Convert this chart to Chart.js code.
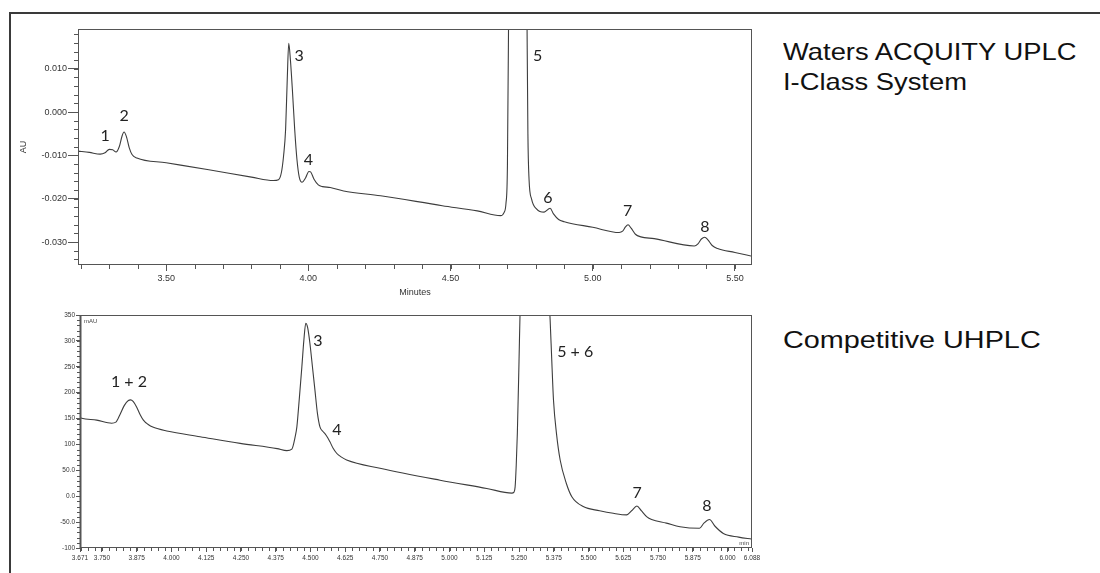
<!DOCTYPE html>
<html>
<head>
<meta charset="utf-8">
<title>UPLC vs UHPLC chromatograms</title>
<script src="https://cdn.jsdelivr.net/npm/chart.js@4.4.1/dist/chart.umd.min.js"></script>
<style>
  body { margin: 0; background: #fff; width: 1100px; height: 573px; overflow: hidden; position: relative;
         font-family: "Liberation Sans", Arial, sans-serif; }
  #frame { position: absolute; left: 9px; top: 12px; width: 1100px; height: 580px;
           border-left: 2px solid #3a3a3a; border-top: 2px solid #3a3a3a; }
  #topWrap { position: absolute; left: 0; top: 0; width: 780px; height: 300px; }
  #bottomWrap { position: absolute; left: 0; top: 300px; width: 780px; height: 273px; }
  .system { position: absolute; left: 783px; font-size: 24px; line-height: 30px; color: #111;
            transform: scaleX(1.14); transform-origin: left top; white-space: nowrap; }
  .system.wide { transform: scaleX(1.2); }
</style>
</head>
<body>
<div id="frame"></div>
<div id="topWrap"><canvas id="topChart"></canvas></div>
<div id="bottomWrap"><canvas id="bottomChart"></canvas></div>
<div class="system" style="top:37px">Waters ACQUITY UPLC<br>I-Class System</div>
<div class="system wide" style="top:325px">Competitive UHPLC</div>

<script>
// Waters ACQUITY UPLC I-Class trace (minutes, AU)
const topTime = [3.190, 3.230, 3.268, 3.285, 3.300, 3.312, 3.324, 3.335, 3.345, 3.352, 3.360, 3.370, 3.380, 3.397,
  3.500, 3.650, 3.800, 3.877, 3.895, 3.905, 3.913, 3.920, 3.926, 3.931, 3.937, 3.944, 3.952, 3.960, 3.968, 3.978,
  3.990, 4.002, 4.008, 4.020, 4.035, 4.050, 4.077, 4.124, 4.254, 4.471, 4.594, 4.676, 4.688, 4.695, 4.700, 4.705,
  4.712, 4.725, 4.740, 4.755, 4.765, 4.769, 4.772, 4.776, 4.785, 4.803, 4.829, 4.850, 4.862, 4.880, 4.900, 5.000,
  5.093, 5.105, 5.115, 5.124, 5.135, 5.150, 5.169, 5.216, 5.357, 5.370, 5.382, 5.394, 5.405, 5.420, 5.439, 5.500, 5.562];
const topAU = [-0.0090, -0.0093, -0.0097, -0.0094, -0.0086, -0.0087, -0.0092, -0.0080, -0.0055, -0.0046, -0.0056, -0.0082, -0.0098, -0.0106,
  -0.0117, -0.0133, -0.0150, -0.0158, -0.0156, -0.0140, -0.0100, -0.0040, 0.0080, 0.0159, 0.0120, 0.0050, -0.0040, -0.0110, -0.0150, -0.0162,
  -0.0152, -0.0137, -0.0138, -0.0155, -0.0168, -0.0172, -0.0174, -0.0182, -0.0193, -0.0216, -0.0228, -0.0239, -0.0232, -0.0210, -0.0124, 0.0300,
  0.0900, 0.1500, 0.1600, 0.1200, 0.0600, 0.0200, -0.0050, -0.0155, -0.0201, -0.0224, -0.0231, -0.0222, -0.0235, -0.0248, -0.0253, -0.0266,
  -0.0278, -0.0275, -0.0265, -0.0260, -0.0268, -0.0282, -0.0288, -0.0292, -0.0309, -0.0304, -0.0293, -0.0289, -0.0295, -0.0308, -0.0315, -0.0324, -0.0333];

// competitive UHPLC trace (minutes, mAU)
const bottomTime = [3.671, 3.677, 3.731, 3.785, 3.800, 3.815, 3.830, 3.845, 3.853, 3.862, 3.875, 3.887, 3.899, 3.915,
  3.935, 3.983, 4.103, 4.247, 4.380, 4.415, 4.433, 4.445, 4.451, 4.460, 4.469, 4.476, 4.483, 4.490, 4.498, 4.507,
  4.516, 4.525, 4.534, 4.545, 4.552, 4.562, 4.570, 4.582, 4.594, 4.610, 4.630, 4.750, 4.966, 5.134, 5.224, 5.232,
  5.236, 5.240, 5.244, 5.250, 5.254, 5.270, 5.300, 5.330, 5.352, 5.362, 5.368, 5.374, 5.385, 5.398, 5.420, 5.440,
  5.481, 5.540, 5.589, 5.637, 5.655, 5.674, 5.690, 5.710, 5.727, 5.780, 5.829, 5.899, 5.915, 5.935, 5.955, 5.985, 6.040, 6.088];
const bottomMAU = [152, 150.5, 147, 141, 143, 158, 175, 185, 186, 183, 172, 158, 147, 139,
  133, 126, 115, 102, 92, 88, 91, 115, 134, 190, 250, 300, 334, 325, 295, 250,
  205, 160, 134, 125, 121, 113, 105, 92, 83, 76, 70, 54, 31, 15, 6, 8,
  18, 60, 121, 260, 360, 600, 720, 650, 450, 340, 260, 186, 120, 70, 25, -1,
  -20, -28, -33, -36, -28, -19, -28, -40, -45, -52, -59, -62, -52, -45, -58, -72, -79, -83];

// axis ticks
const topXTicks = [3.50, 4.00, 4.50, 5.00, 5.50];
const topYTicks = [-0.030, -0.020, -0.010, 0.000, 0.010];
const bottomXTicks = [3.671, 3.750, 3.875, 4.000, 4.125, 4.250, 4.375, 4.500, 4.625, 4.750, 4.875, 5.000,
  5.125, 5.250, 5.375, 5.500, 5.625, 5.750, 5.875, 6.000, 6.088];
const bottomYTicks = [-100, -50, 0, 50, 100, 150, 200, 250, 300, 350];
const bottomYLabels = ['-100', '-50.0', '0.0', '50.0', '100', '150', '200', '250', '300', '350'];

// peak annotations (name, time, response)
const topPeakNames = ['1', '2', '3', '4', '5', '6', '7', '8'];
const topPeakTime = [3.285, 3.352, 3.968, 4.000, 4.806, 4.842, 5.123, 5.394];
const topPeakAU = [-0.0055, -0.0009, 0.0129, -0.0111, 0.0129, -0.0198, -0.0228, -0.0265];
const bottomPeakNames = ['1 + 2', '3', '4', '5 + 6', '7', '8'];
const bottomPeakTime = [3.847, 4.527, 4.595, 5.452, 5.675, 5.926];
const bottomPeakMAU = [220, 300, 128, 278, 6, -19];

const chromDecor = {
  id: 'chromDecor',
  afterDraw(chart, args, o) {
    const { ctx, chartArea: a, scales: { x, y } } = chart;
    ctx.save();
    ctx.strokeStyle = o.frameColor;
    ctx.lineWidth = 1;
    ctx.strokeRect(a.left + 0.5, a.top + 0.5, a.width - 1, a.height - 1);
    if (o.leftAxisWidth) {
      ctx.lineWidth = o.leftAxisWidth;
      ctx.beginPath();
      ctx.moveTo(a.left + 0.5, a.top);
      ctx.lineTo(a.left + 0.5, a.bottom);
      ctx.stroke();
    }

    // minor tick marks
    ctx.lineWidth = 1;
    ctx.strokeStyle = o.tickColor;
    ctx.beginPath();
    for (let i = 0; ; i++) {
      const v = o.minorX[0] + i * o.minorX[1];
      if (v > x.max + 1e-9) break;
      const px = Math.round(x.getPixelForValue(v)) + 0.5;
      ctx.moveTo(px, a.bottom);
      ctx.lineTo(px, a.bottom + o.minorLen);
    }
    for (let i = 0; ; i++) {
      const v = o.minorY[0] + i * o.minorY[1];
      if (v > y.max + 1e-9) break;
      const py = Math.round(y.getPixelForValue(v)) + 0.5;
      ctx.moveTo(a.left, py);
      ctx.lineTo(a.left - o.minorLen, py);
    }
    ctx.stroke();

    // peak numbers
    ctx.fillStyle = '#222';
    ctx.font = '16px Lato, "Open Sans", sans-serif';
    ctx.textAlign = 'center';
    ctx.textBaseline = 'middle';
    o.peakNames.forEach((name, i) => {
      ctx.fillText(name, x.getPixelForValue(o.peakTime[i]), y.getPixelForValue(o.peakValue[i]));
    });

    // unit captions inside the plot (Chromeleon style)
    if (o.unitY) {
      ctx.font = '6px "Liberation Sans", Arial, sans-serif';
      ctx.fillStyle = '#444';
      ctx.textAlign = 'left';
      ctx.textBaseline = 'top';
      ctx.fillText(o.unitY, a.left + 4, a.top + 3);
      ctx.textAlign = 'right';
      ctx.textBaseline = 'bottom';
      ctx.fillText(o.unitX, a.right - 3, a.bottom - 2);
    }
    ctx.restore();
  }
};

function buildChart(canvasId, cfg) {
  const ctx = document.getElementById(canvasId).getContext('2d');
  return new Chart(ctx, {
    type: 'line',
    data: {
      datasets: [{
        data: cfg.time.map((t, i) => ({ x: t, y: cfg.values[i] })),
        borderColor: '#3d3d3d',
        borderWidth: 1.1,
        pointRadius: 0,
        fill: false,
        cubicInterpolationMode: 'monotone'
      }]
    },
    options: {
      responsive: true,
      maintainAspectRatio: false,
      animation: false,
      events: [],
      layout: { padding: cfg.padding },
      plugins: {
        legend: { display: false },
        tooltip: { enabled: false },
        chromDecor: cfg.decor
      },
      scales: {
        x: {
          type: 'linear',
          min: cfg.xMin,
          max: cfg.xMax,
          afterBuildTicks: s => { s.ticks = cfg.xTicks.map(v => ({ value: v })); },
          afterFit: s => { s.height = cfg.xAxisHeight; },
          border: { display: false },
          grid: { drawOnChartArea: false, drawTicks: true, tickLength: cfg.xTickLen, color: '#555' },
          ticks: {
            autoSkip: false, maxRotation: 0, minRotation: 0, padding: 2,
            color: '#333', font: { size: cfg.tickFont, family: '"Liberation Sans", Arial, sans-serif' },
            callback: cfg.xLabel
          },
          title: cfg.xTitle
        },
        y: {
          type: 'linear',
          min: cfg.yMin,
          max: cfg.yMax,
          afterBuildTicks: s => { s.ticks = cfg.yTicks.map(v => ({ value: v })); },
          afterFit: s => { s.width = cfg.yAxisWidth; },
          border: { display: false },
          grid: { drawOnChartArea: false, drawTicks: true, tickLength: cfg.yTickLen, color: '#555' },
          ticks: {
            autoSkip: false, padding: 1,
            color: '#333', font: { size: cfg.tickFont, family: '"Liberation Sans", Arial, sans-serif' },
            callback: cfg.yLabel
          },
          title: cfg.yTitle
        }
      }
    },
    plugins: [chromDecor]
  });
}

buildChart('topChart', {
  time: topTime, values: topAU,
  xMin: 3.19, xMax: 5.56, yMin: -0.0353, yMax: 0.0192,
  xTicks: topXTicks, yTicks: topYTicks,
  xLabel: v => v.toFixed(2), yLabel: v => v.toFixed(3),
  padding: { left: 18, top: 29, right: 28, bottom: 0 },
  xAxisHeight: 35, yAxisWidth: 60, xTickLen: 6, yTickLen: 10, tickFont: 9,
  xTitle: { display: true, text: 'Minutes', color: '#333', font: { size: 9 }, padding: { top: 0, bottom: 2 } },
  yTitle: { display: true, text: 'AU', color: '#333', font: { size: 9 }, padding: { top: 0, bottom: 0 } },
  decor: {
    frameColor: '#555', tickColor: '#555', minorLen: 4,
    minorX: [3.2, 0.1], minorY: [-0.034, 0.002],
    peakNames: topPeakNames, peakTime: topPeakTime, peakValue: topPeakAU
  }
});

buildChart('bottomChart', {
  time: bottomTime, values: bottomMAU,
  xMin: 3.671, xMax: 6.088, yMin: -100, yMax: 350,
  xTicks: bottomXTicks, yTicks: bottomYTicks,
  xLabel: v => v.toFixed(3), yLabel: (v, i) => bottomYLabels[i],
  padding: { left: 40, top: 15, right: 28, bottom: 0 },
  xAxisHeight: 25, yAxisWidth: 40, xTickLen: 4, yTickLen: 4, tickFont: 6.5,
  xTitle: { display: false },
  yTitle: { display: false },
  decor: {
    frameColor: '#555', tickColor: '#555', minorLen: 3, leftAxisWidth: 2,
    minorX: [3.675, 0.025], minorY: [-100, 10],
    peakNames: bottomPeakNames, peakTime: bottomPeakTime, peakValue: bottomPeakMAU,
    unitY: 'mAU', unitX: 'min'
  }
});
</script>
</body>
</html>
